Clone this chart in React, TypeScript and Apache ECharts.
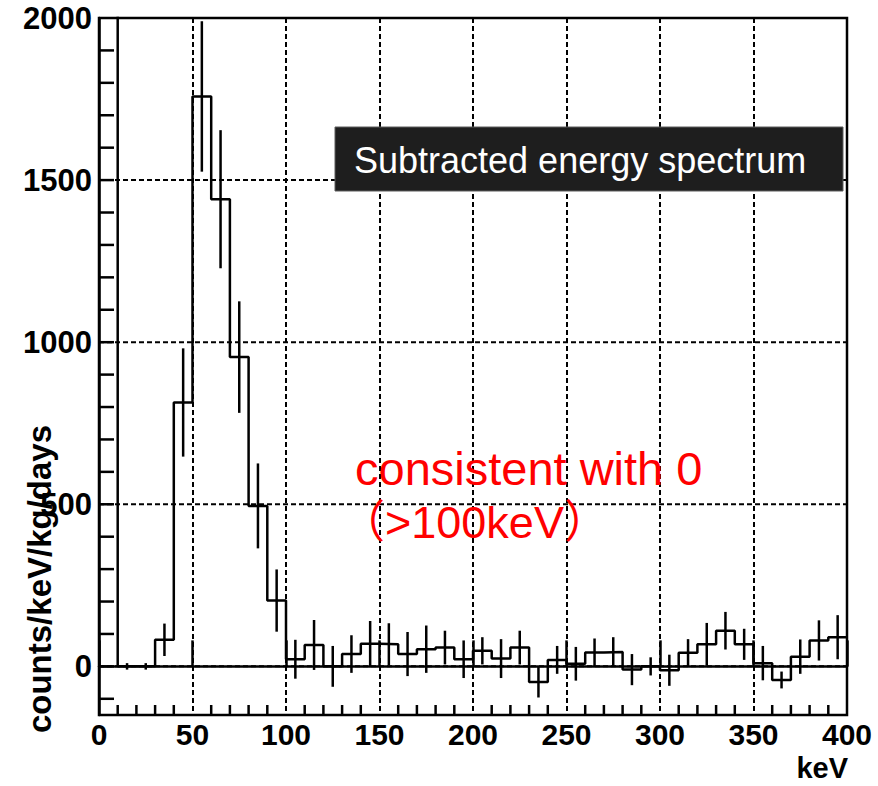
import React, { useEffect, useRef } from "react";
import * as echarts from "echarts";

// Histogram bin edges (keV), 10 keV wide bins
const binEdges = [
  0, 10, 20, 30, 40, 50, 60, 70, 80, 90, 100, 110, 120, 130, 140, 150, 160, 170, 180, 190, 200,
  210, 220, 230, 240, 250, 260, 270, 280, 290, 300, 310, 320, 330, 340, 350, 360, 370, 380, 390, 400,
];

// Subtracted rate per bin (counts/keV/kg/days); the first bin runs off the top of the frame
const counts = [
  2600, 0, 0, 82, 814, 1758, 1441, 954, 495, 203,
  22, 66, 0, 38, 70, 68, 38, 53, 58, 22,
  48, 24, 58, -48, 20, 8, 43, 44, -10, 0,
  -12, 42, 68, 110, 68, 10, -42, 30, 80, 90,
];

// Statistical uncertainty per bin
const errors = [
  0, 10, 10, 50, 167, 232, 213, 172, 131, 96,
  60, 77, 63, 58, 70, 65, 68, 73, 52, 58,
  42, 60, 52, 48, 43, 52, 43, 46, 48, 28,
  48, 42, 66, 58, 48, 53, 26, 53, 62, 68,
];

const yLabelValues = [0, 500, 1000, 1500, 2000];
const yGridValues = [0, 500, 1000, 1500];
const yMinorTicks = [-100, 0, 100, 200, 300, 400, 500, 600, 700, 800, 900, 1000, 1100, 1200, 1300, 1400, 1500, 1600, 1700, 1800, 1900];
const xMinorTicks = [
  10, 20, 30, 40, 60, 70, 80, 90, 110, 120, 130, 140, 160, 170, 180, 190, 210, 220, 230, 240,
  260, 270, 280, 290, 310, 320, 330, 340, 360, 370, 380, 390,
];

const X_MIN = 0;
const X_MAX = 400;
const Y_MIN = -150;
const Y_MAX = 2000;

const FONT = "'Liberation Sans', Arial, Helvetica, sans-serif";
const LW = 2.5;
const DASH = [5, 3];

export default function App() {
  const ref = useRef<HTMLDivElement>(null);

  useEffect(() => {
    if (!ref.current) return;
    const chart = echarts.init(ref.current, undefined, { renderer: "svg" });

    // step outline: one point per low edge, plus the closing upper edge
    const stepData = binEdges.map((e, i) => [e, counts[Math.min(i, counts.length - 1)]]);
    const errData = counts.map((c, i) => [
      (binEdges[i] + binEdges[i + 1]) / 2,
      c - errors[i],
      c + errors[i],
    ]);

    const option: any = {
      animation: false,
      backgroundColor: "#ffffff",
      grid: {
        left: 99,
        right: 31,
        top: 18,
        bottom: 71,
        show: true,
        borderColor: "#000",
        borderWidth: LW,
        backgroundColor: "transparent",
      },
      xAxis: {
        type: "value",
        min: X_MIN,
        max: X_MAX,
        interval: 50,
        axisLine: { show: true, lineStyle: { color: "#000", width: LW } },
        axisTick: { show: true, inside: true, length: 26, lineStyle: { color: "#000", width: LW } },
        splitLine: { show: true, lineStyle: { color: "#000", width: 2, type: DASH } },
        axisLabel: {
          margin: 4,
          color: "#000",
          fontFamily: FONT,
          fontWeight: "bold",
          fontSize: 30,
        },
      },
      yAxis: {
        type: "value",
        min: Y_MIN,
        max: Y_MAX,
        interval: 50,
        axisLine: { show: true, lineStyle: { color: "#000", width: LW } },
        axisTick: { show: false },
        splitLine: { show: false },
        axisLabel: {
          margin: 7,
          color: "#000",
          fontFamily: FONT,
          fontWeight: "bold",
          fontSize: 31,
          formatter: (v: number) => (yLabelValues.includes(Math.round(v)) ? String(Math.round(v)) : ""),
        },
      },
      series: [
        {
          // horizontal dashed grid lines
          type: "custom",
          data: yGridValues.map((v) => [X_MIN, v]),
          silent: true,
          z: 1,
          renderItem: (_p: any, api: any) => {
            const v = api.value(1);
            const a = api.coord([X_MIN, v]);
            const b = api.coord([X_MAX, v]);
            return {
              type: "line",
              shape: { x1: a[0], y1: a[1], x2: b[0], y2: b[1] },
              style: { stroke: "#000", lineWidth: 2, lineDash: DASH },
            };
          },
        },
        {
          // inner ticks on the left axis
          type: "custom",
          data: yMinorTicks.map((v) => [X_MIN, v]),
          silent: true,
          z: 2,
          renderItem: (_p: any, api: any) => {
            const v = api.value(1);
            const a = api.coord([X_MIN, v]);
            return {
              type: "line",
              shape: { x1: a[0], y1: a[1], x2: a[0] + 15, y2: a[1] },
              style: { stroke: "#000", lineWidth: LW },
            };
          },
        },
        {
          // short inner ticks on the bottom axis
          type: "custom",
          data: xMinorTicks.map((v) => [v, Y_MIN]),
          silent: true,
          z: 2,
          renderItem: (_p: any, api: any) => {
            const a = api.coord([api.value(0), Y_MIN]);
            return {
              type: "line",
              shape: { x1: a[0], y1: a[1], x2: a[0], y2: a[1] - 10 },
              style: { stroke: "#000", lineWidth: LW },
            };
          },
        },
        {
          type: "line",
          data: stepData,
          step: "end",
          symbol: "none",
          clip: true,
          z: 3,
          lineStyle: { color: "#000", width: LW },
        },
        {
          // vertical error bars at bin centres
          type: "custom",
          data: errData,
          clip: true,
          z: 4,
          encode: { x: 0, y: [1, 2] },
          renderItem: (_p: any, api: any) => {
            const x = api.value(0);
            const lo = api.coord([x, api.value(1)]);
            const hi = api.coord([x, api.value(2)]);
            return {
              type: "line",
              shape: { x1: lo[0], y1: lo[1], x2: hi[0], y2: hi[1] },
              style: { stroke: "#000", lineWidth: LW },
            };
          },
        },
      ],
      graphic: [
        {
          type: "rect",
          shape: { x: 335, y: 127, width: 508, height: 64 },
          style: { fill: "#1e1e1e", stroke: "#5c5c5c", lineWidth: 1 },
          z: 10,
        },
        {
          type: "text",
          x: 354,
          y: 160,
          z: 11,
          style: {
            text: "Subtracted energy spectrum",
            fill: "#ffffff",
            fontFamily: FONT,
            fontSize: 36,
            align: "left",
            verticalAlign: "middle",
          },
        },
        {
          type: "text",
          x: 355,
          y: 468,
          z: 11,
          style: {
            text: "consistent with 0",
            fill: "#ff0000",
            fontFamily: FONT,
            fontSize: 47,
            align: "left",
            verticalAlign: "middle",
          },
        },
        {
          type: "text",
          x: 340,
          y: 522,
          z: 11,
          style: {
            text: "（>100keV）",
            fill: "#ff0000",
            fontFamily: FONT + ", 'Noto Sans CJK JP'",
            fontSize: 45,
            align: "left",
            verticalAlign: "middle",
          },
        },
        {
          type: "text",
          x: 39,
          y: 579,
          rotation: Math.PI / 2,
          z: 11,
          style: {
            text: "counts/keV/kg/days",
            fill: "#000",
            fontFamily: FONT,
            fontWeight: "bold",
            fontSize: 33,
            align: "center",
            verticalAlign: "middle",
          },
        },
        {
          type: "text",
          x: 848,
          y: 768,
          z: 11,
          style: {
            text: "keV",
            fill: "#000",
            fontFamily: FONT,
            fontWeight: "bold",
            fontSize: 29,
            align: "right",
            verticalAlign: "middle",
          },
        },
      ],
    };

    chart.setOption(option);
    return () => chart.dispose();
  }, []);

  return (
    <div
      ref={ref}
      style={{ position: "absolute", left: 0, top: 0, width: 878, height: 786, background: "#fff" }}
    />
  );
}
